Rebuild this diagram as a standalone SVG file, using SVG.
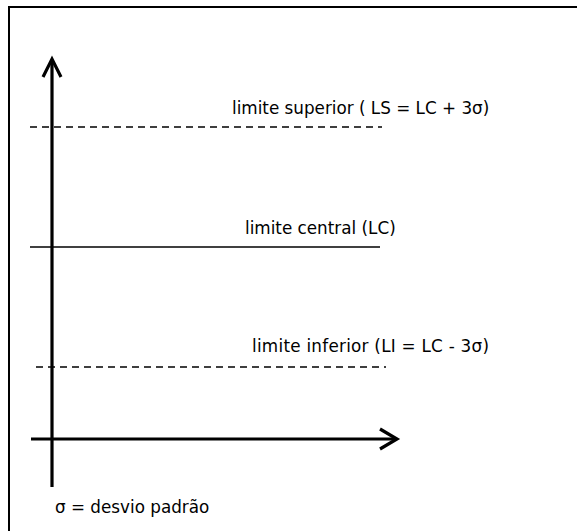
<svg xmlns="http://www.w3.org/2000/svg" width="577" height="531" viewBox="0 0 577 531">
<style>
.t{font-family:"DejaVu Sans",Verdana,sans-serif;font-size:16.8px;fill:#000}
.ax{stroke:#000;stroke-width:3.2;fill:none;stroke-linecap:butt}
.dash{stroke:#000;stroke-width:1.5;stroke-dasharray:7 5}
.solid{stroke:#000;stroke-width:1.5}
</style>
<rect x="0" y="0" width="577" height="531" fill="#fff"/>
<rect id="frame" x="9" y="7" width="620" height="600" fill="none" stroke="#000" stroke-width="2"/>
<g id="connectors">
<path class="ax" d="M52,487 V60"/>
<path class="ax" d="M43,77 L52,59 L61,77" stroke-linejoin="miter"/>
<path class="ax" d="M31,439 H396"/>
<path class="ax" d="M380,429 L397,439 L380,449"/>
<line class="dash" x1="30" y1="127" x2="382" y2="127"/>
<line class="solid" x1="30" y1="247" x2="380" y2="247"/>
<line class="dash" x1="36" y1="367" x2="386" y2="367"/>
</g>
<g id="ls"><text class="t" x="232" y="114">limite superior ( LS = LC + 3σ)</text></g>
<g id="lc"><text class="t" x="245" y="234">limite central (LC)</text></g>
<g id="li"><text class="t" x="252" y="352" textLength="237" lengthAdjust="spacing">limite inferior (LI = LC - 3σ)</text></g>
<g id="legend"><text class="t" x="55" y="513">σ = desvio padrão</text></g>
</svg>
